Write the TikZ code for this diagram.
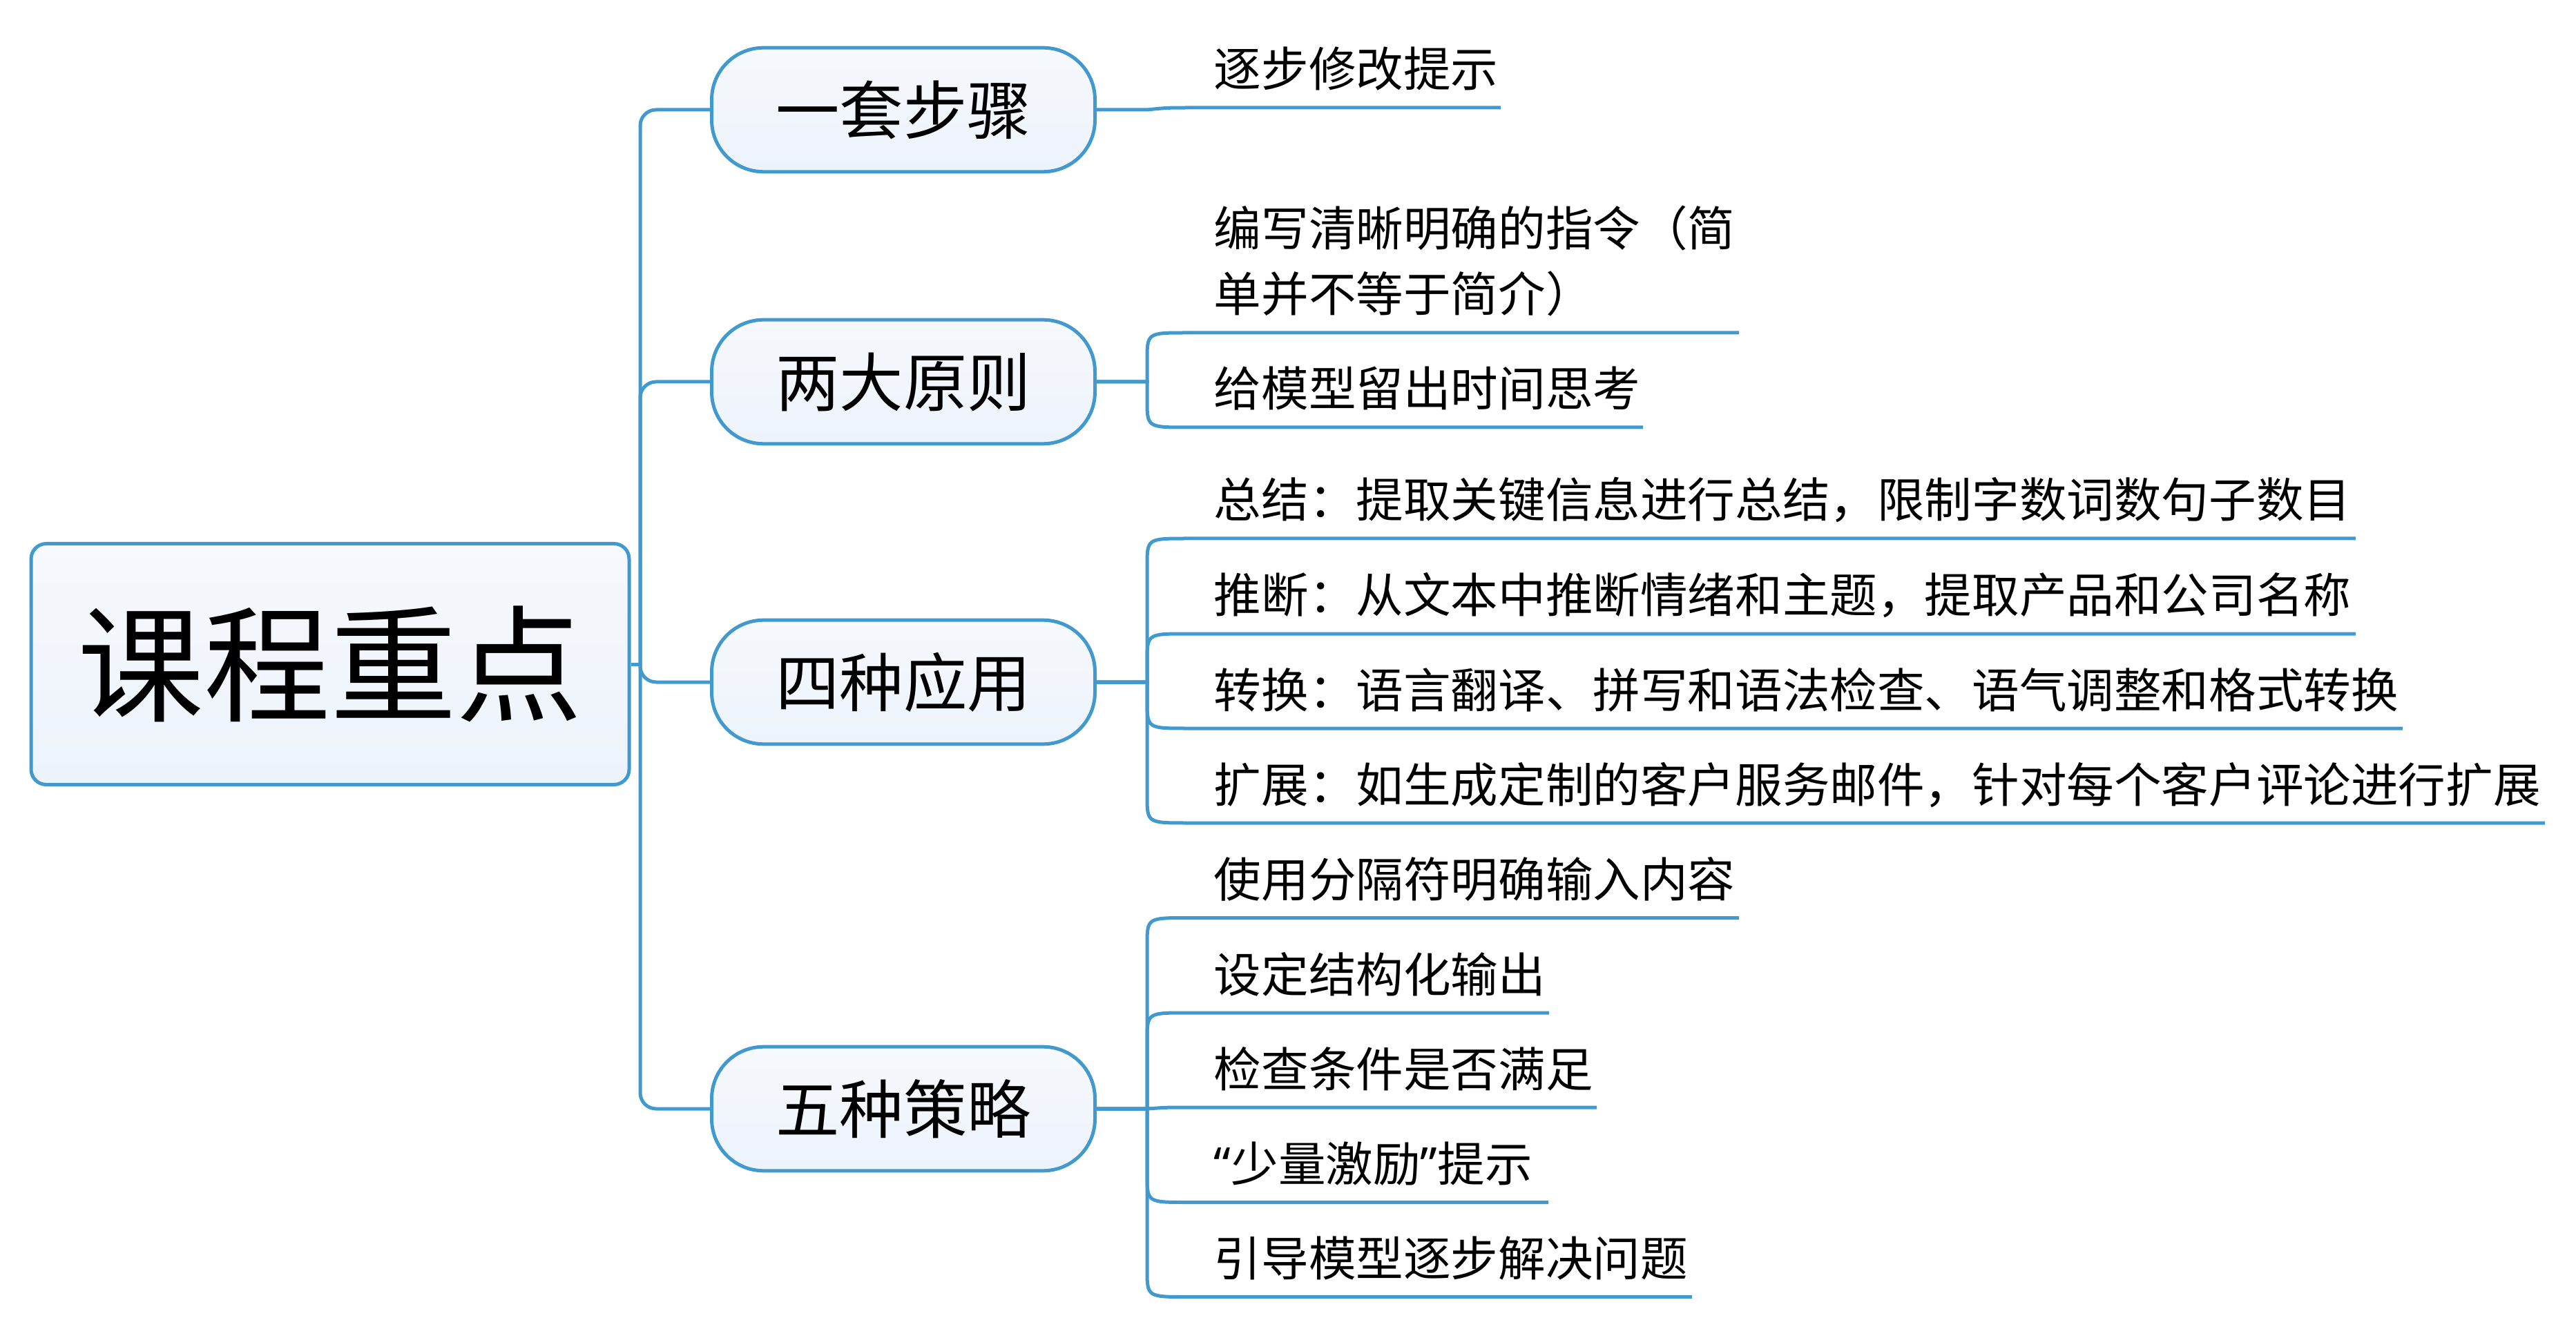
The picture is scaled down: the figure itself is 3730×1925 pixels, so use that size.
\documentclass[tikz,border=0pt]{standalone}
\usepackage{fontspec}
\setmainfont{Noto Sans CJK SC}
\newfontfamily\latinq{Noto Sans}
\definecolor{lineblue}{RGB}{66,153,206}
\definecolor{filltop}{RGB}{246,249,253}
\definecolor{fillbot}{RGB}{237,243,251}
\tikzset{
  conn/.style={draw=lineblue, line width=1.25pt},
  rootbox/.style={draw=lineblue, line width=1.25pt, rounded corners=5.5pt,
    top color=filltop, bottom color=fillbot, minimum width=216.5pt,
    minimum height=87.25pt, inner sep=0pt, font=\fontsize{45.75pt}{50pt}\selectfont},
  branchbox/.style={draw=lineblue, line width=1.25pt, rounded corners=18.75pt,
    top color=filltop, bottom color=fillbot, minimum width=138.75pt,
    minimum height=44.9pt, inner sep=0pt, font=\fontsize{23.1pt}{28pt}\selectfont},
  leaftext/.style={anchor=base west, inner sep=0pt, font=\fontsize{17.15pt}{23.875pt}\selectfont}
}
\begin{document}
\begin{tikzpicture}[x=0.25pt, y=-0.25pt]
\useasboundingbox (0,0) rectangle (3730,1925);
% root and branches
\node[rootbox] (root) at (478,962) {课程重点};
\node[branchbox] (n1) at (1308,159) {一套步骤};
\node[branchbox] (n2) at (1308,553) {两大原则};
\node[branchbox] (n3) at (1308,988) {四种应用};
\node[branchbox] (n4) at (1308,1606) {五种策略};
% trunk
\coordinate (R) at (927,962);
\draw[conn] (root.east) -- (R);
\draw[conn, rounded corners=5.75pt] (R) -- (927,159) -- (n1.west);
\draw[conn, rounded corners=5.75pt] (R) -- (927,553) -- (n2.west);
\draw[conn, rounded corners=5.75pt] (R) -- (927,988) -- (n3.west);
\draw[conn, rounded corners=5.75pt] (R) -- (927,1606) -- (n4.west);
% junctions
\coordinate (J1) at (1661,159);
\coordinate (J2) at (1661,553);
\coordinate (J3) at (1661,988);
\coordinate (J4) at (1661,1606);
% underline ends
\coordinate (e11) at (2173,156);
\coordinate (e21) at (2518,482);
\coordinate (e22) at (2379,619);
\coordinate (e31) at (3411,780);
\coordinate (e32) at (3411,918);
\coordinate (e33) at (3479,1055);
\coordinate (e34) at (3685,1192);
\coordinate (e41) at (2518,1329.5);
\coordinate (e42) at (2243,1467);
\coordinate (e43) at (2312,1604);
\coordinate (e44) at (2242,1741.5);
\coordinate (e45) at (2450,1878.5);
% leaf texts
\node[leaftext] (l11) at (1757,126) {逐步修改提示};
\node[leaftext] (l21) at (1757,452) {\begin{tabular}[b]{@{}l@{}}编写清晰明确的指令（简\\单并不等于简介）\end{tabular}};
\node[leaftext] (l22) at (1757,589) {给模型留出时间思考};
\node[leaftext] (l31) at (1757,750) {总结：提取关键信息进行总结，限制字数词数句子数目};
\node[leaftext] (l32) at (1757,888) {推断：从文本中推断情绪和主题，提取产品和公司名称};
\node[leaftext] (l33) at (1757,1025) {转换：语言翻译、拼写和语法检查、语气调整和格式转换};
\node[leaftext] (l34) at (1757,1162) {扩展：如生成定制的客户服务邮件，针对每个客户评论进行扩展};
\node[leaftext] (l41) at (1757,1299.5) {使用分隔符明确输入内容};
\node[leaftext] (l42) at (1757,1437) {设定结构化输出};
\node[leaftext] (l43) at (1757,1574) {检查条件是否满足};
\node[leaftext] (l44) at (1757,1711.5) {{\latinq “}少量激励{\latinq ”}提示};
\node[leaftext] (l45) at (1757,1848.5) {引导模型逐步解决问题};
% leaf connectors
\draw[conn] (n1.east) -- (J1) .. controls (1690,156) .. (1730,156) -- (e11);
\draw[conn] (n2.east) -- (J2) -- (1661,522) .. controls (1661,482) .. (1719,482) -- (e21);
\draw[conn] (n2.east) -- (J2) -- (1661,579) .. controls (1661,619) .. (1719,619) -- (e22);
\draw[conn] (n3.east) -- (J3) -- (1661,820) .. controls (1661,780) .. (1719,780) -- (e31);
\draw[conn] (n3.east) -- (J3) -- (1661,958) .. controls (1661,918) .. (1719,918) -- (e32);
\draw[conn] (n3.east) -- (J3) -- (1661,1015) .. controls (1661,1055) .. (1719,1055) -- (e33);
\draw[conn] (n3.east) -- (J3) -- (1661,1152) .. controls (1661,1192) .. (1719,1192) -- (e34);
\draw[conn] (n4.east) -- (J4) -- (1661,1369.5) .. controls (1661,1329.5) .. (1719,1329.5) -- (e41);
\draw[conn] (n4.east) -- (J4) -- (1661,1507) .. controls (1661,1467) .. (1719,1467) -- (e42);
\draw[conn] (n4.east) -- (J4) .. controls (1690,1604) .. (1719,1604) -- (e43);
\draw[conn] (n4.east) -- (J4) -- (1661,1701.5) .. controls (1661,1741.5) .. (1719,1741.5) -- (e44);
\draw[conn] (n4.east) -- (J4) -- (1661,1838.5) .. controls (1661,1878.5) .. (1719,1878.5) -- (e45);
\end{tikzpicture}
\end{document}
